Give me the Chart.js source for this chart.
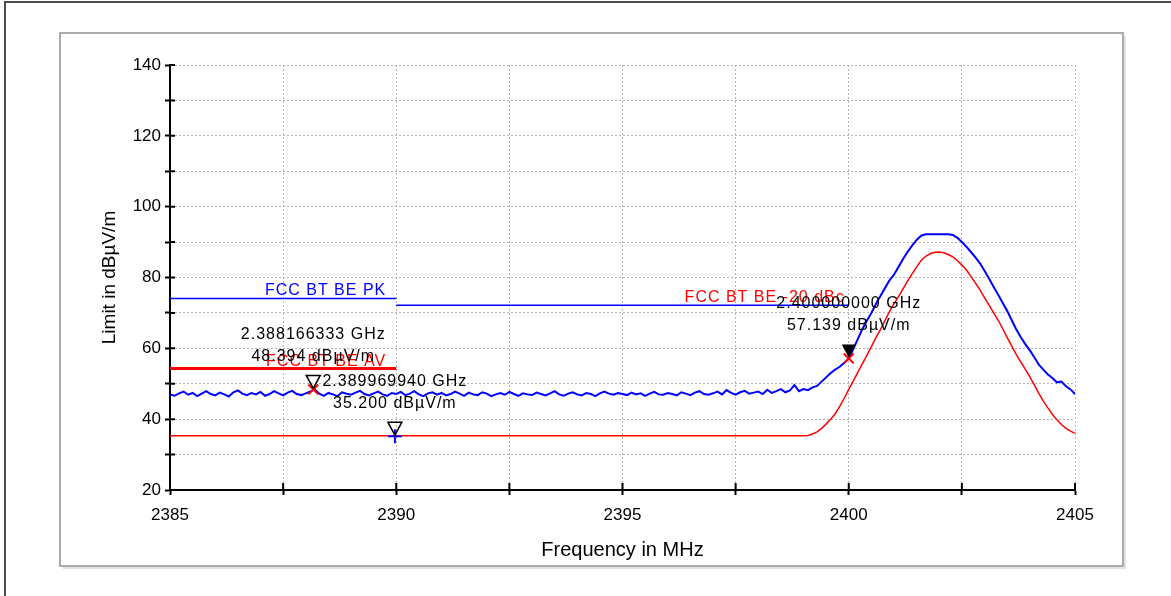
<!DOCTYPE html>
<html>
<head>
<meta charset="utf-8">
<script src="https://cdn.jsdelivr.net/npm/chart.js@4.4.0/dist/chart.umd.min.js"></script>
<style>
  html, body { margin: 0; padding: 0; background: #fff; }
  #wrap { position: relative; width: 1171px; height: 596px; }
</style>
</head>
<body>
<div id="wrap"><canvas id="emcChart" width="1171" height="596"></canvas></div>
<script>
// axis tick labels
const xTickLabels = [2385, 2390, 2395, 2400, 2405];
const yTickLabels = [20, 40, 60, 80, 100, 120, 140];

// peak trace, sampled every 0.1 MHz from 2385.0 to 2405.0
const traceStart = 2385.0;
const traceStep = 0.1;
const peakTrace = [
  47.0, 46.6, 47.3, 47.8, 46.9, 47.4, 46.5, 47.2, 47.9, 47.1,
  46.7, 47.5, 47.0, 46.4, 47.6, 48.1, 47.2, 46.8, 47.4, 47.0,
  47.7, 46.6, 47.1, 47.9, 47.3, 46.7, 47.5, 48.0, 47.1, 46.8,
  47.3, 47.8, 48.4, 47.2, 46.6, 47.4, 47.0, 46.5, 47.6, 47.2,
  46.9, 47.5, 48.0, 47.1, 46.7, 47.3, 47.8, 47.0, 46.6, 47.4,
  47.1, 47.7, 46.8, 47.2, 47.9, 47.0, 46.5, 47.3, 47.6, 46.9,
  47.4, 46.7, 47.1, 47.8, 47.2, 46.6, 47.5, 47.0, 46.8, 47.6,
  47.2, 46.5, 47.0, 47.4, 46.9, 47.7, 47.1, 46.6, 47.3, 47.0,
  46.8, 47.5, 47.1, 46.7, 47.3, 47.9, 47.0, 46.6, 47.2, 47.6,
  47.0, 46.7, 47.4, 47.1, 46.5, 47.3, 47.8, 47.2, 46.9, 47.4,
  47.1, 46.8, 47.5, 47.0, 47.3, 46.6, 47.2, 47.7, 47.0, 46.9,
  47.4, 47.1, 46.7, 47.6, 47.2, 46.8, 47.5, 47.9, 47.1, 46.9,
  47.3, 47.8, 47.0, 48.2, 47.4, 46.9, 47.6, 48.0, 47.2, 47.5,
  47.8, 47.1, 48.3, 47.4, 47.9, 48.5, 47.6, 48.1, 49.6, 47.9,
  48.5, 48.2, 49.0, 49.4, 50.6, 51.8, 53.0, 54.0, 54.8, 55.9,
  57.1, 59.8, 62.6, 65.4, 67.8, 70.0, 72.5, 74.8, 77.0, 79.2,
  80.8, 83.0, 85.2, 87.2, 89.0, 90.6, 91.8, 92.2, 92.2, 92.2,
  92.2, 92.2, 92.2, 92.0, 91.2, 90.0, 88.7, 87.2, 85.7, 84.0,
  81.9, 79.7, 77.4, 75.2, 72.9, 70.6, 68.0, 65.4, 63.2, 61.2,
  59.5, 57.5, 55.4, 54.0, 52.6, 51.6, 50.4, 50.6, 49.3, 48.4,
  47.1
];

// average trace
const avgFreqs = [
  2385.0,
  2399.0, 2399.1, 2399.2, 2399.3, 2399.4, 2399.5, 2399.6, 2399.7, 2399.8, 2399.9,
  2400.0, 2400.1, 2400.2, 2400.3, 2400.4, 2400.5, 2400.6, 2400.7, 2400.8, 2400.9,
  2401.0, 2401.1, 2401.2, 2401.3, 2401.4, 2401.5, 2401.6, 2401.7, 2401.8, 2401.9,
  2402.0, 2402.1, 2402.2, 2402.3, 2402.4, 2402.5, 2402.6, 2402.7, 2402.8, 2402.9,
  2403.0, 2403.1, 2403.2, 2403.3, 2403.4, 2403.5, 2403.6, 2403.7, 2403.8, 2403.9,
  2404.0, 2404.1, 2404.2, 2404.3, 2404.4, 2404.5, 2404.6, 2404.7, 2404.8, 2404.9,
  2405.0
];
const avgTrace = [
  35.3,
  35.3, 35.4, 35.8, 36.4, 37.4, 38.6, 40.0, 41.5, 43.6, 45.9,
  48.4, 50.8, 53.2, 55.6, 58.0, 60.5, 63.0, 65.3, 67.8, 70.4,
  72.6, 74.6, 76.8, 79.0, 81.0, 83.0, 84.8, 86.0, 86.7, 87.1,
  87.2, 87.0, 86.5, 85.8, 84.8, 83.5, 82.1, 80.3, 78.4, 76.5,
  74.3, 72.2, 70.1, 68.0, 65.6, 63.1, 60.7, 58.3, 56.2, 54.1,
  52.0, 49.7, 47.3, 45.1, 43.2, 41.4, 39.8, 38.5, 37.4, 36.6,
  36.0
];

// limit lines
const limitNames = ['FCC BT BE PK', 'FCC BT BE AV', 'FCC BT BE -20 dBc'];
const limitFrom = [2385, 2385, 2390];
const limitTo = [2390, 2390, 2400];
const limitLevel = [74.1, 54.3, 72.2];

// markers
const markerFreqs = [2388.166333, 2389.969940, 2400.000000];
const markerLevels = [48.394, 35.200, 57.139];

const BLUE = '#0000ff';
const RED = '#ff0000';
const FONT = '"Liberation Sans", Arial, sans-serif';

Chart.defaults.font.family = FONT;

const peakPoints = peakTrace.map((v, i) => ({ x: traceStart + i * traceStep, y: v }));
const avgPoints = avgTrace.map((v, i) => ({ x: avgFreqs[i], y: v }));
const limitPoints = i => [{ x: limitFrom[i], y: limitLevel[i] }, { x: limitTo[i], y: limitLevel[i] }];

const framePlugin = {
    id: 'frame',
    beforeDraw(chart) {
        const ctx = chart.ctx;
        ctx.save();
        ctx.fillStyle = '#fff';
        ctx.fillRect(0, 0, chart.width, chart.height);
        // outer window frame
        ctx.strokeStyle = '#4d4d4d';
        ctx.lineWidth = 2;
        ctx.beginPath();
        ctx.moveTo(5, 596);
        ctx.lineTo(5, 2);
        ctx.lineTo(1171, 2);
        ctx.stroke();
        // inner panel with a soft shadow
        ctx.strokeStyle = '#e2e2e2';
        ctx.beginPath();
        ctx.moveTo(1125, 36);
        ctx.lineTo(1125, 568);
        ctx.lineTo(63, 568);
        ctx.stroke();
        ctx.strokeStyle = '#ababab';
        ctx.strokeRect(60, 33, 1063, 533);
        ctx.restore();
    },
    afterDatasetsDraw(chart) {
        const { ctx, chartArea, scales: { x, y } } = chart;
        ctx.save();
        // tick stubs inside the plot area
        ctx.strokeStyle = '#000';
        ctx.lineWidth = 2;
        ctx.beginPath();
        y.ticks.forEach(t => {
            const py = y.getPixelForValue(t.value);
            ctx.moveTo(chartArea.left, py);
            ctx.lineTo(chartArea.left + 5, py);
        });
        x.ticks.forEach(t => {
            const px = x.getPixelForValue(t.value);
            ctx.moveTo(px, chartArea.bottom);
            ctx.lineTo(px, chartArea.bottom - 7);
        });
        ctx.stroke();

        ctx.font = '16px ' + FONT;
        ctx.letterSpacing = '1px';
        ctx.textBaseline = 'alphabetic';

        // limit line names
        const nameColors = [BLUE, RED, RED];
        const nameGap = [10, 10, 4];
        limitNames.forEach((name, i) => {
            ctx.fillStyle = nameColors[i];
            ctx.textAlign = 'right';
            ctx.fillText(name, x.getPixelForValue(limitTo[i]) - nameGap[i], y.getPixelForValue(limitLevel[i]) - 3);
        });

        // marker triangles and readouts
        markerFreqs.forEach((f, i) => {
            const px = x.getPixelForValue(f);
            const py = y.getPixelForValue(markerLevels[i]);
            ctx.beginPath();
            ctx.moveTo(px - 7, py - 14);
            ctx.lineTo(px + 7, py - 14);
            ctx.lineTo(px, py - 1);
            ctx.closePath();
            if (i === 2) {
                ctx.fillStyle = '#000';
                ctx.fill();
            } else {
                ctx.lineWidth = 1.5;
                ctx.strokeStyle = '#000';
                ctx.stroke();
            }
            ctx.fillStyle = '#000';
            ctx.textAlign = 'center';
            ctx.fillText((f / 1000).toFixed(9) + ' GHz', px, py - 50);
            ctx.fillText(markerLevels[i].toFixed(3) + ' dB\u00b5V/m', px, py - 28);
        });
        ctx.restore();
    }
};

const myChart = new Chart(document.getElementById('emcChart'), {
    type: 'line',
    data: {
        datasets: [
            {
                type: 'scatter',
                data: markerFreqs.map((f, i) => ({ x: f, y: markerLevels[i] })),
                pointStyle: ['crossRot', 'cross', 'crossRot'],
                pointRadius: 7,
                pointBorderWidth: 2,
                pointBorderColor: [RED, BLUE, RED],
                showLine: false
            },
            {
                label: 'PK',
                data: peakPoints,
                borderColor: BLUE,
                borderWidth: 2,
                pointRadius: 0,
                tension: 0
            },
            {
                label: 'AV',
                data: avgPoints,
                borderColor: RED,
                borderWidth: 1.5,
                pointRadius: 0,
                tension: 0
            },
            {
                label: limitNames[0],
                data: limitPoints(0),
                borderColor: BLUE,
                borderWidth: 1.5,
                pointRadius: 0
            },
            {
                label: limitNames[1],
                data: limitPoints(1),
                borderColor: RED,
                borderWidth: 3,
                pointRadius: 0
            },
            {
                label: limitNames[2],
                data: limitPoints(2),
                borderColor: BLUE,
                borderWidth: 1.5,
                pointRadius: 0
            }
        ]
    },
    options: {
        responsive: false,
        animation: false,
        layout: { padding: { left: 60, right: 96, top: 65, bottom: 30 } },
        plugins: {
            legend: { display: false },
            tooltip: { enabled: false }
        },
        scales: {
            x: {
                type: 'linear',
                min: xTickLabels[0],
                max: xTickLabels[xTickLabels.length - 1],
                ticks: {
                    stepSize: 2.5,
                    autoSkip: false,
                    maxRotation: 0,
                    padding: 10,
                    color: '#000',
                    font: { size: 17 },
                    callback: v => xTickLabels.includes(v) ? String(v) : ''
                },
                grid: {
                    color: '#b5b5b5',
                    lineWidth: 1,
                    tickLength: 5,
                    tickColor: '#000',
                    tickWidth: 2,
                    tickBorderDash: []
                },
                border: { display: true, color: '#000', width: 2, dash: [2, 2] },
                title: {
                    display: true,
                    text: 'Frequency in MHz',
                    color: '#000',
                    font: { size: 20 },
                    padding: { top: 0, bottom: 4 }
                },
                afterFit: s => { s.height = 76; }
            },
            y: {
                type: 'linear',
                min: yTickLabels[0],
                max: yTickLabels[yTickLabels.length - 1],
                ticks: {
                    stepSize: 10,
                    padding: 4,
                    color: '#000',
                    font: { size: 17 },
                    callback: v => yTickLabels.includes(v) ? String(v) : ''
                },
                grid: {
                    color: '#b5b5b5',
                    lineWidth: 1,
                    tickLength: 5,
                    tickColor: '#000',
                    tickWidth: 2,
                    tickBorderDash: []
                },
                border: { display: true, color: '#000', width: 2, dash: [2, 2] },
                title: {
                    display: true,
                    text: 'Limit in dB\u00b5V/m',
                    color: '#000',
                    font: { size: 19 },
                    padding: { top: 38, bottom: 0 }
                },
                afterFit: s => { s.width = 110; }
            }
        }
    },
    plugins: [framePlugin]
});
</script>
</body>
</html>
